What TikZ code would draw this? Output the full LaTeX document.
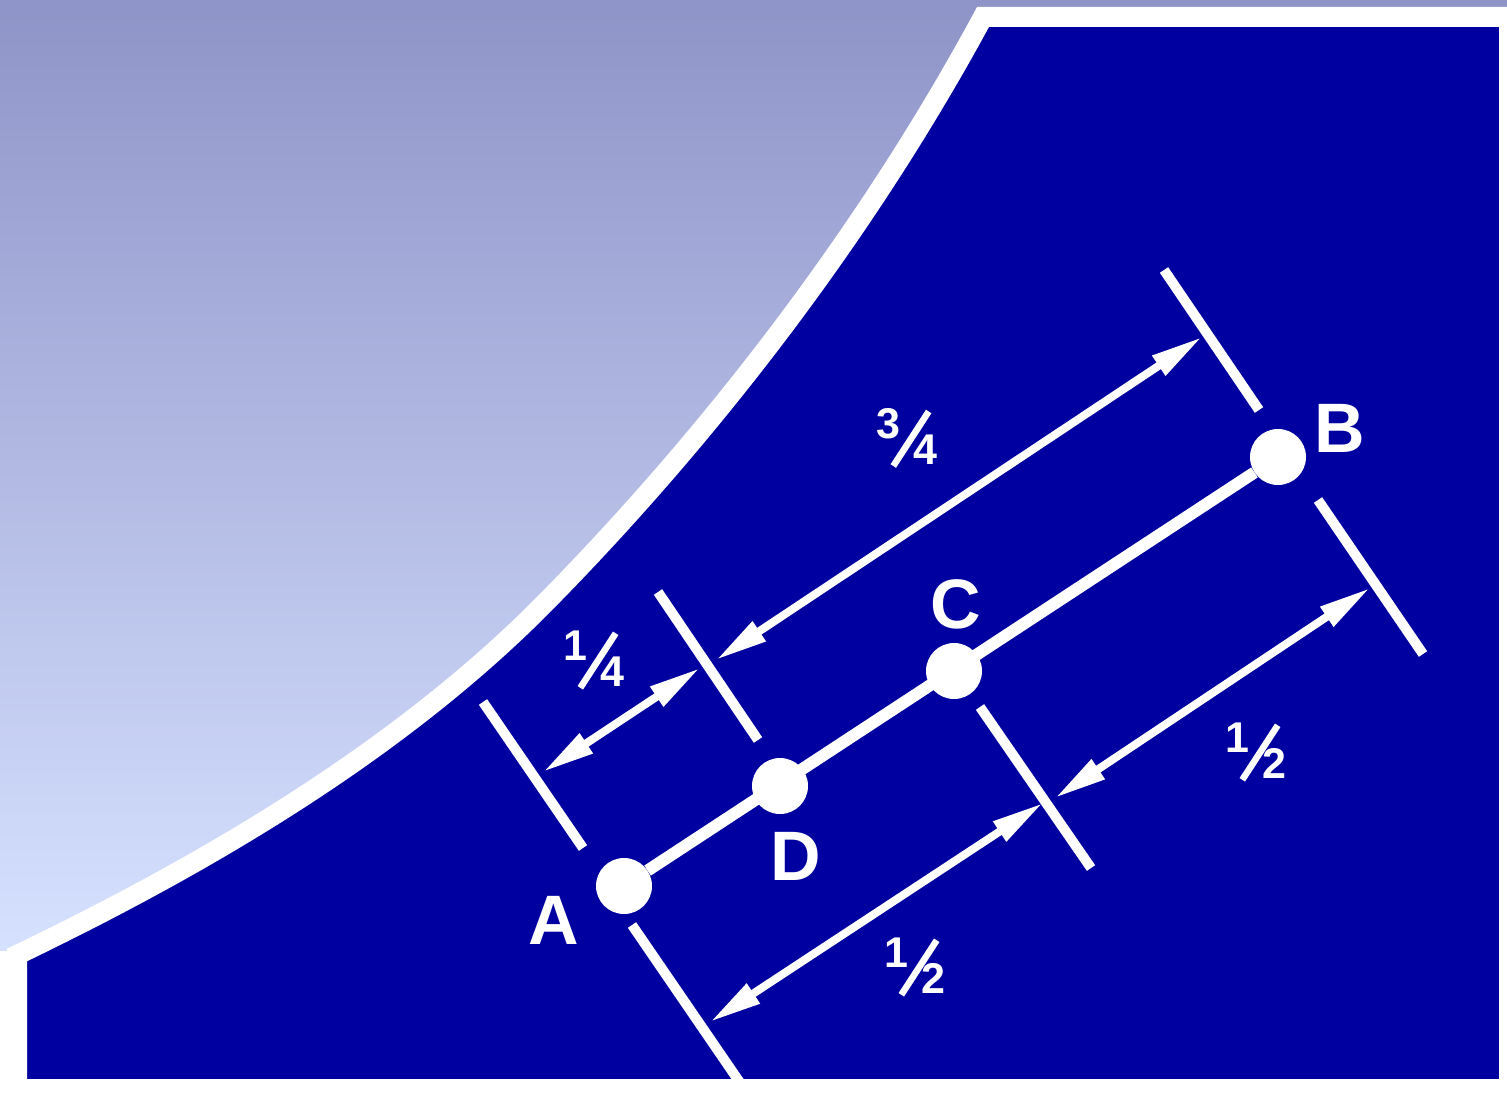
\documentclass[tikz,border=0pt]{standalone}
\usepackage{fontspec}
\setmainfont{Liberation Sans}
\usepackage{graphicx}
\usetikzlibrary{arrows.meta,calc}
\definecolor{navy}{RGB}{0,0,160}
\definecolor{skytop}{RGB}{143,148,200}
\definecolor{skybot}{RGB}{214,225,255}
% fraction built from small digits and a slanted bar
\newcommand{\vfrac}[2]{\fontsize{43}{43}\selectfont\raisebox{26pt}{#1}\kern-10pt\rotatebox{-33}{\rule{6.5pt}{65pt}}\kern-18pt#2}

\begin{document}
\begin{tikzpicture}[x=1pt,y=-1pt,
  dot/.style={circle,fill=white,inner sep=0pt,minimum size=56pt},
  lbl/.style={text=white,inner sep=0pt,font=\fontsize{70}{70}\selectfont\bfseries},
  frac/.style={text=white,inner sep=0pt,font=\bfseries},
  bar/.style={white,line width=10pt},
  dim/.style={{Triangle[length=52pt,width=22pt]}-{Triangle[length=52pt,width=22pt]},white,line width=8pt}]
\useasboundingbox (0,0) rectangle (1507,1097);
% background and panel
\fill[white] (0,0) rectangle (1507,1097);
\shade[top color=skytop,bottom color=skybot] (0,0) rectangle (1507,950);
\draw[white,line width=20pt,fill=navy,line join=miter]
  (17,955) .. controls (206,864) and (401,750) .. (548,600)
  .. controls (716,429) and (869,228) .. (983,17)
  -- (1509,17) -- (1509,1089) -- (17,1089) -- cycle;
% points on the segment
\node[dot] (A) at (624,886) {};
\node[dot] (D) at (780,786) {};
\node[dot] (C) at (954,671) {};
\node[dot] (B) at (1278,457) {};
\draw[white,line width=12pt] (A) -- (B);
\node[lbl] (la) at (554,920) {A};
\node[lbl] (lb) at (1340,428) {B};
\node[lbl] (lc) at (956,604) {C};
\node[lbl] (ld) at (796,856) {D};
% upper extension lines
\coordinate (t1a) at (483,702); \coordinate (t1b) at (583,848);
\coordinate (t2a) at (658,592); \coordinate (t2b) at (758,740);
\coordinate (t3a) at (1164,270); \coordinate (t3b) at (1259,410);
\draw[bar] (t1a) -- (t1b);
\draw[bar] (t2a) -- (t2b);
\draw[bar] (t3a) -- (t3b);
% lower extension lines
\coordinate (t4a) at (632,925); \coordinate (t4b) at (745,1090);
\coordinate (t5a) at (980,707); \coordinate (t5b) at (1091,868);
\coordinate (t6a) at (1318,500); \coordinate (t6b) at (1423,654);
\draw[bar] (t4a) -- (t4b);
\draw[bar] (t5a) -- (t5b);
\draw[bar] (t6a) -- (t6b);
% dimension arrows
\coordinate (q1a) at (543,772); \coordinate (q1b) at (700,668);
\coordinate (q2a) at (716,660); \coordinate (q2b) at (1202,337);
\coordinate (q3a) at (710,1022); \coordinate (q3b) at (1043,803);
\coordinate (q4a) at (1055,798); \coordinate (q4b) at (1370,588);
\draw[dim] (q1a) -- (q1b);
\draw[dim] (q2a) -- (q2b);
\draw[dim] (q3a) -- (q3b);
\draw[dim] (q4a) -- (q4b);
\node[frac] (f14) at (594,660) {\vfrac{1}{4}};
\node[frac] (f34) at (907,438) {\vfrac{3}{4}};
\node[frac] (f12r) at (1256,752) {\vfrac{1}{2}};
\node[frac] (f12b) at (915,967) {\vfrac{1}{2}};
\end{tikzpicture}
\end{document}
